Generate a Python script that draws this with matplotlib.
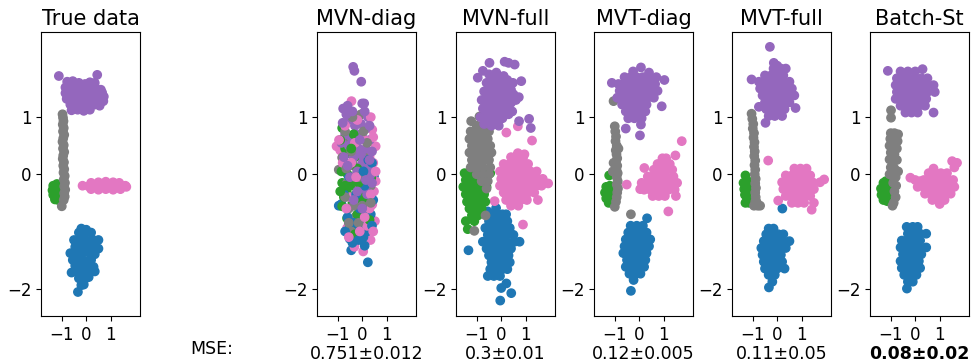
import matplotlib
matplotlib.use("Agg")
import matplotlib.pyplot as plt

# ---------------- data ----------------
titles = ["True data", "MVN-diag", "MVN-full", "MVT-diag", "MVT-full", "Batch-St"]
mse_labels = [None, "0.751\u00b10.012", "0.3\u00b10.01", "0.12\u00b10.005", "0.11\u00b10.05", "0.08\u00b10.02"]
colors = {"blue": "#1f77b4", "green": "#2ca02c", "pink": "#e377c2", "gray": "#7f7f7f", "purple": "#9467bd"}
xticks = [-1, 0, 1]
yticks = [-2, 0, 1]

# --- True data
true_purple = [(-1.12, 1.72), (0.45, 1.74),
    (-0.78, 1.62), (-0.55, 1.63), (-0.3, 1.6), (-0.05, 1.58), (0.15, 1.61), (0.35, 1.6),
    (-0.85, 1.52), (-0.6, 1.5), (-0.35, 1.53), (-0.1, 1.5), (0.15, 1.52), (0.4, 1.5), (0.6, 1.48),
    (-0.85, 1.42), (-0.6, 1.4), (-0.35, 1.43), (-0.1, 1.41), (0.15, 1.42), (0.4, 1.4), (0.65, 1.43), (0.72, 1.36),
    (-0.8, 1.32), (-0.55, 1.3), (-0.3, 1.33), (-0.05, 1.3), (0.2, 1.32), (0.45, 1.3), (0.7, 1.28),
    (-0.65, 1.22), (-0.4, 1.2), (-0.15, 1.23), (0.1, 1.2), (0.35, 1.22), (0.55, 1.2),
    (-0.6, 1.12), (-0.35, 1.13), (-0.1, 1.11), (0.15, 1.13)]
true_gray = [(-0.97, 1.05), (-0.95, 0.99), (-0.93, 0.93), (-0.96, 0.87), (-0.92, 0.81), (-0.95, 0.75),
    (-0.9, 0.69), (-0.94, 0.63), (-0.97, 0.57), (-0.92, 0.51), (-0.95, 0.45), (-0.9, 0.39),
    (-0.94, 0.33), (-0.96, 0.27), (-0.91, 0.21), (-0.94, 0.15), (-0.9, 0.09), (-0.93, 0.03),
    (-0.88, -0.03), (-0.92, -0.09), (-0.87, -0.15), (-0.9, -0.21), (-0.86, -0.27), (-0.9, -0.33),
    (-0.88, -0.39), (-0.92, -0.45), (-1.0, -0.56)]
true_green = [(-1.35, -0.2), (-1.2, -0.17), (-1.38, -0.28), (-1.25, -0.26), (-1.12, -0.25), (-1.35, -0.36),
    (-1.22, -0.35), (-1.1, -0.33), (-1.28, -0.44), (-1.15, -0.45), (-1.3, -0.32), (-1.18, -0.4)]
true_pink = [(0.2, -0.15), (0.5, -0.14), (0.8, -0.13), (1.1, -0.14), (1.35, -0.15),
    (-0.15, -0.2), (0.1, -0.21), (0.4, -0.2), (0.7, -0.19), (1.0, -0.2), (1.3, -0.21), (1.6, -0.2),
    (0.2, -0.26), (0.5, -0.27), (0.8, -0.26), (1.1, -0.27), (1.4, -0.26), (1.64, -0.22)]
true_blue = [(-0.2, -0.95), (0.0, -0.97), (-0.3, -1.02), (-0.05, -1.04), (0.2, -1.02),
    (-0.5, -1.15), (-0.25, -1.15), (0.0, -1.17), (0.25, -1.14), (0.5, -1.15),
    (-0.45, -1.27), (-0.2, -1.27), (0.05, -1.28), (0.3, -1.26), (0.5, -1.3),
    (-0.65, -1.38), (-0.4, -1.39), (-0.15, -1.38), (0.1, -1.37), (0.35, -1.4),
    (-0.55, -1.5), (-0.3, -1.5), (-0.05, -1.52), (0.2, -1.5),
    (-0.45, -1.6), (-0.2, -1.61), (0.05, -1.6), (0.3, -1.62),
    (-0.6, -1.72), (-0.35, -1.72), (-0.1, -1.73), (0.15, -1.72), (0.35, -1.7),
    (-0.3, -1.82), (-0.05, -1.83), (0.1, -1.8), (-0.2, -1.94), (-0.1, -1.93), (-0.34, -2.06)]

# --- MVN-diag
mvnd_purple = [(-0.37, 1.88), (-0.32, 1.81), (-0.04, 1.62), (0.0, 1.24), (0.08, 1.24), (-0.78, 1.15),
    (-0.6, 1.2), (0.23, 1.0), (-0.55, 0.95), (-0.3, 0.85), (-0.05, 0.88), (0.15, 0.8), (-0.7, 0.7),
    (-0.45, 0.65), (-0.2, 0.7), (0.05, 0.62), (0.3, 0.6), (-0.85, 0.55), (-0.55, 0.5), (-0.15, 0.45),
    (0.15, 0.45), (-0.35, 0.3), (0.0, 0.2), (-0.2, 0.05), (0.25, 0.1), (-0.5, -0.05), (0.1, -0.25),
    (0.2, -0.35), (-0.2, -0.3), (0.35, 0.0),
    (-0.65, 1.05), (-0.4, 1.1), (0.1, 1.1), (-0.8, 0.9), (0.3, 0.85), (-0.1, 0.6), (0.4, 0.4),
    (-0.75, 0.3), (-0.05, 0.35), (0.3, 0.25), (-0.6, 0.15), (0.15, -0.1), (-0.35, -0.45), (0.0, -0.6),
    (0.4, -0.15)]
mvnd_pink = [(-0.44, 1.28), (0.41, 0.78), (0.55, 0.49), (-1.05, 0.49), (-0.9, 0.42), (0.3, 0.3),
    (0.25, 0.15), (0.55, -0.12), (0.48, -0.3), (0.41, -0.53), (0.52, -0.82), (-0.62, -0.94),
    (0.34, -1.15), (-0.32, -1.27), (0.04, -1.35), (-0.3, -1.2), (0.2, -0.05), (-0.1, -0.2),
    (0.3, -0.6), (-0.5, -0.4), (0.1, 0.6), (-0.2, 0.95), (0.35, 1.0), (0.2, -0.9), (-0.45, 0.2),
    (-0.7, 0.85), (-0.3, 0.55), (0.45, 0.65), (-0.8, 0.2), (0.45, 0.2), (-0.25, -0.05), (0.35, -0.35),
    (-0.65, -0.6), (0.1, -0.75), (-0.1, -1.0), (0.45, -1.0), (-0.55, -1.1), (0.55, 0.05), (-0.95, 0.6)]
mvnd_blue = [(0.04, 0.33), (0.48, -0.04), (-0.96, -0.55), (-0.85, -0.52), (0.0, -0.49), (0.15, -0.6),
    (-0.07, -0.74), (0.0, -0.91), (0.1, -0.85), (-0.51, -1.13), (-0.45, -1.33), (0.23, -1.54),
    (-0.55, -0.04), (-0.2, -0.95), (0.2, -1.0), (-0.3, -1.05), (0.35, -0.7), (0.3, -0.1),
    (-0.1, -0.6), (0.45, -0.45), (-0.35, -0.85), (0.05, -1.1), (-0.15, 0.1), (0.25, 0.25),
    (-0.75, -0.35), (-0.6, -0.75), (0.3, -0.35), (-0.25, -0.35), (0.1, -0.2), (-0.4, -1.2),
    (0.1, -1.25), (-0.15, -1.15), (0.4, -0.9), (-0.7, -1.0), (0.05, 0.05), (0.4, 0.2)]
mvnd_green = [(-0.82, 0.81), (-0.55, 0.37), (-0.75, 0.17), (-0.82, -0.15), (-0.62, -0.33), (-0.82, -0.56),
    (-0.62, -0.77), (0.0, -1.15), (0.37, -0.06), (-0.55, 0.6), (-0.6, 0.0), (-0.4, -0.5), (-0.3, 0.3),
    (-0.45, -0.2), (0.25, -0.5), (-0.2, -0.7), (0.2, 0.05), (-0.7, 0.45), (-0.5, -0.9), (0.1, -0.3),
    (-0.9, 0.6), (-0.35, 0.7), (-0.85, 0.05), (-0.2, 0.1), (-0.75, -0.4), (0.0, -0.45), (-0.3, -1.05),
    (-0.7, -0.2), (-0.15, -0.15), (-0.45, 0.45), (0.3, -0.8), (-0.9, -0.3)]
mvnd_gray = [(-0.14, 1.02), (-0.05, 1.05), (-0.37, 0.65), (-0.82, 0.29), (-0.96, 0.08), (-0.62, -0.15),
    (-0.21, 0.02), (-0.27, -0.74), (0.27, -0.74), (-0.27, -0.97), (-0.4, -0.15), (-0.6, 0.55),
    (-0.2, 0.45), (0.1, 0.3), (-0.1, -0.3), (-0.55, -0.6), (0.05, -0.15), (-0.35, 0.15), (-0.8, 0.3),
    (-0.35, -0.55), (0.2, -0.9), (-0.45, -1.0), (0.35, -0.2),
    (-0.4, 1.0), (-0.7, 0.75), (0.05, 0.75), (-0.45, 0.4), (0.2, 0.55), (-0.65, 0.1), (-0.15, -0.05),
    (-0.7, -0.4), (0.0, -0.55), (-0.15, -0.85), (0.35, -0.5), (-0.55, -0.85)]

# --- MVN-full
mvnf_purple = [(-0.48, 1.95), (0.14, 1.97), (0.3, 1.95), (0.55, 1.92), (-0.96, 1.69), (-0.75, 1.81),
    (0.82, 1.63), (0.48, 1.6), (1.14, 0.97), (1.21, 0.81), (0.73, 0.93),
    (-0.5, 1.75), (-0.2, 1.78), (0.1, 1.72), (-0.6, 1.6), (-0.3, 1.58), (0.0, 1.6), (0.3, 1.55),
    (-0.7, 1.45), (-0.4, 1.45), (-0.1, 1.45), (0.2, 1.42), (0.5, 1.4), (0.72, 1.35),
    (-0.8, 1.3), (-0.5, 1.3), (-0.2, 1.3), (0.1, 1.3), (0.4, 1.25),
    (-0.75, 1.15), (-0.45, 1.15), (-0.15, 1.15), (0.15, 1.12), (0.45, 1.1),
    (-0.85, 1.0), (-0.55, 1.0), (-0.25, 1.0), (0.05, 0.98),
    (-0.7, 0.88), (-0.4, 0.85), (-0.1, 0.85),
    (-0.35, 1.7), (-0.05, 1.68), (0.25, 1.65), (-0.45, 1.52), (-0.15, 1.52), (0.15, 1.5), (0.4, 1.48),
    (-0.55, 1.38), (-0.25, 1.38), (0.05, 1.37), (0.35, 1.33), (0.6, 1.3), (-0.65, 1.22), (-0.35, 1.22),
    (-0.05, 1.22), (0.25, 1.2), (-0.6, 1.08), (-0.3, 1.07), (0.0, 1.06), (0.3, 1.05), (-0.55, 0.92),
    (-0.25, 0.92)]
mvnf_gray = [(-1.23, 0.93), (-0.89, 1.01), (-1.0, 0.85), (-0.75, 0.82),
    (-1.25, 0.75), (-1.0, 0.75), (-0.75, 0.75), (-0.5, 0.75),
    (-1.3, 0.62), (-1.05, 0.62), (-0.8, 0.62), (-0.55, 0.62),
    (-1.2, 0.5), (-0.95, 0.5), (-0.7, 0.5), (-0.45, 0.5),
    (-1.3, 0.38), (-1.05, 0.38), (-0.8, 0.38), (-0.55, 0.38), (-0.4, 0.38),
    (-1.2, 0.25), (-0.95, 0.25), (-0.7, 0.25), (-0.5, 0.25),
    (-1.25, 0.12), (-1.0, 0.12), (-0.75, 0.12), (-0.45, 0.12),
    (-1.0, 0.0), (-0.75, 0.0), (-0.5, 0.0), (-0.8, -0.12), (-0.55, -0.12), (-0.6, -0.25),
    (-1.1, -0.99), (-0.64, -0.72)]
mvnf_green = [(-1.5, 0.02), (-1.3, 0.02), (-0.95, 0.02), (-0.7, 0.02), (-0.45, 0.02),
    (-1.45, -0.1), (-1.2, -0.1), (-0.95, -0.1), (-0.7, -0.1),
    (-1.55, -0.22), (-1.3, -0.22), (-1.05, -0.22), (-0.8, -0.22), (-0.6, -0.22),
    (-1.45, -0.35), (-1.2, -0.35), (-0.95, -0.35), (-0.7, -0.35),
    (-1.4, -0.48), (-1.15, -0.48), (-0.9, -0.48), (-0.65, -0.48),
    (-1.3, -0.6), (-1.05, -0.6), (-0.8, -0.6), (-1.2, -0.72), (-0.95, -0.72),
    (-1.45, -0.82), (-1.1, -0.82), (-1.37, -0.96)]
mvnf_pink = [(0.21, 0.73), (0.68, 0.84), (1.26, 0.59), (0.68, 0.37), (0.95, 0.35), (1.92, -0.16),
    (0.89, -0.88), (-0.27, -0.47),
    (0.4, 0.3), (0.65, 0.3), (0.9, 0.3),
    (0.1, 0.18), (0.35, 0.18), (0.6, 0.18), (0.85, 0.18), (1.1, 0.18),
    (-0.05, 0.05), (0.2, 0.05), (0.45, 0.05), (0.7, 0.05), (0.95, 0.05), (1.2, 0.05), (1.45, 0.05),
    (0.0, -0.08), (0.25, -0.08), (0.5, -0.08), (0.75, -0.08), (1.0, -0.08), (1.25, -0.08), (1.5, -0.08), (1.7, -0.08),
    (-0.05, -0.2), (0.2, -0.2), (0.45, -0.2), (0.7, -0.2), (0.95, -0.2), (1.2, -0.2), (1.45, -0.2), (1.65, -0.2),
    (0.1, -0.32), (0.35, -0.32), (0.6, -0.32), (0.85, -0.32), (1.1, -0.32), (1.35, -0.32),
    (0.2, -0.45), (0.5, -0.45), (0.8, -0.45), (1.05, -0.45), (1.5, -0.45), (0.4, -0.55), (0.7, -0.55)]
mvnf_blue = [(-0.55, -0.65), (-0.21, -0.59), (-1.34, -1.33), (0.75, -1.18), (0.21, -1.91), (0.0, -1.99),
    (0.41, -2.08), (-0.04, -2.21),
    (-0.45, -0.7), (-0.2, -0.7), (0.05, -0.7), (0.2, -0.7),
    (-0.5, -0.82), (-0.25, -0.82), (0.0, -0.82), (0.25, -0.82),
    (-0.65, -0.94), (-0.4, -0.94), (-0.15, -0.94), (0.1, -0.94), (0.35, -0.94),
    (-0.55, -1.06), (-0.3, -1.06), (-0.05, -1.06), (0.2, -1.06), (0.5, -1.06),
    (-0.75, -1.18), (-0.5, -1.18), (-0.25, -1.18), (0.0, -1.18), (0.25, -1.18), (0.55, -1.18),
    (-0.6, -1.3), (-0.35, -1.3), (-0.1, -1.3), (0.15, -1.3), (0.4, -1.3),
    (-0.5, -1.42), (-0.25, -1.42), (0.0, -1.42), (0.3, -1.42),
    (-0.4, -1.54), (-0.15, -1.54), (0.1, -1.54), (0.35, -1.54),
    (-0.45, -1.66), (-0.2, -1.66), (0.05, -1.66), (0.25, -1.66),
    (-0.55, -1.78), (-0.3, -1.78), (-0.05, -1.78)]

# --- MVT-diag
mvtd_purple = [(0.07, 1.87), (-1.12, 1.6), (1.03, 1.65), (0.92, 1.19), (0.03, 0.68), (-0.55, 0.8),
    (0.07, 0.87), (-0.25, 1.8), (0.4, 1.78),
    (-0.6, 1.7), (-0.35, 1.7), (-0.1, 1.7), (0.15, 1.7), (0.4, 1.7), (0.7, 1.7),
    (-0.85, 1.58), (-0.6, 1.58), (-0.35, 1.58), (-0.1, 1.58), (0.15, 1.58), (0.4, 1.58), (0.65, 1.58),
    (-0.8, 1.46), (-0.55, 1.46), (-0.3, 1.46), (-0.05, 1.46), (0.2, 1.46), (0.45, 1.46), (0.75, 1.46),
    (-0.9, 1.34), (-0.65, 1.34), (-0.4, 1.34), (-0.15, 1.34), (0.1, 1.34), (0.35, 1.34), (0.6, 1.34),
    (-0.7, 1.22), (-0.45, 1.22), (-0.2, 1.22), (0.05, 1.22), (0.3, 1.22),
    (-0.55, 1.1), (-0.3, 1.1), (-0.05, 1.1), (0.25, 1.1), (-0.45, 0.98), (-0.2, 0.98), (0.1, 0.98)]
mvtd_gray = [(-1.05, 1.28), (-1.0, 0.84), (-0.98, 0.75), (-0.95, 0.66), (-0.97, 0.58), (-0.92, 0.5),
    (-0.96, 0.42), (-0.93, 0.35), (-0.9, 0.28), (-0.95, 0.22), (-0.9, 0.15), (-0.93, 0.08),
    (-0.88, 0.02), (-0.92, -0.05), (-0.88, -0.12), (-0.92, -0.18), (-0.87, -0.25), (-0.9, -0.32),
    (-0.92, -0.4), (-0.95, -0.48), (-1.0, -0.57), (-1.05, 0.2), (-1.08, 0.05), (-0.85, 0.45), (-0.34, -0.7)]
mvtd_green = [(-1.23, -0.02), (-1.35, -0.22), (-1.2, -0.2), (-1.4, -0.32), (-1.25, -0.3), (-1.1, -0.28),
    (-1.35, -0.42), (-1.2, -0.4), (-1.08, -0.4), (-1.25, -0.5), (-1.12, -0.5)]
mvtd_pink = [(1.74, 0.58), (1.48, 0.33), (0.21, 0.11), (-0.51, -0.18), (1.19, -0.65), (0.04, -0.26),
    (0.95, 0.28), (1.1, 0.28), (0.75, 0.18), (1.0, 0.18), (1.25, 0.18),
    (0.6, 0.08), (0.85, 0.08), (1.1, 0.08), (1.35, 0.08),
    (0.35, -0.04), (0.6, -0.04), (0.85, -0.04), (1.1, -0.04), (1.4, -0.04),
    (0.1, -0.15), (0.35, -0.15), (0.6, -0.15), (0.85, -0.15), (1.1, -0.15), (1.35, -0.15), (1.55, -0.15),
    (0.2, -0.27), (0.45, -0.27), (0.7, -0.27), (0.95, -0.27), (1.2, -0.27), (1.45, -0.27),
    (0.55, -0.38), (0.8, -0.38), (1.05, -0.38), (1.5, -0.38)]
mvtd_blue = [(0.32, -0.77), (-0.35, -0.9), (-0.1, -0.9), (0.15, -0.9),
    (-0.45, -1.02), (-0.2, -1.02), (0.05, -1.02), (0.3, -1.02),
    (-0.55, -1.14), (-0.3, -1.14), (-0.05, -1.14), (0.2, -1.14), (0.45, -1.14),
    (-0.6, -1.26), (-0.35, -1.26), (-0.1, -1.26), (0.15, -1.26), (0.4, -1.26),
    (-0.65, -1.38), (-0.4, -1.38), (-0.15, -1.38), (0.1, -1.38), (0.3, -1.38),
    (-0.5, -1.5), (-0.25, -1.5), (0.0, -1.5), (0.25, -1.5),
    (-0.55, -1.62), (-0.3, -1.62), (-0.05, -1.62), (0.2, -1.62),
    (-0.4, -1.74), (-0.15, -1.74), (0.05, -1.74), (-0.23, -1.85), (-0.34, -2.04)]

# --- MVT-full
mvtf_purple = [(-0.3, 2.23), (-0.14, 1.95), (0.0, 1.9), (-1.05, 1.66), (0.75, 1.16), (-0.75, 1.18), (-0.48, 0.9),
    (-0.15, 1.85), (0.15, 1.85), (0.35, 1.85),
    (-0.5, 1.73), (-0.25, 1.73), (0.0, 1.73), (0.25, 1.73),
    (-0.75, 1.62), (-0.5, 1.62), (-0.25, 1.62), (0.0, 1.62), (0.25, 1.62), (0.5, 1.62),
    (-0.7, 1.5), (-0.45, 1.5), (-0.2, 1.5), (0.05, 1.5), (0.3, 1.5), (0.6, 1.5),
    (-0.6, 1.38), (-0.35, 1.38), (-0.1, 1.38), (0.15, 1.38), (0.4, 1.38), (0.7, 1.38),
    (-0.5, 1.26), (-0.25, 1.26), (0.0, 1.26), (0.25, 1.26), (0.5, 1.26),
    (-0.45, 1.14), (-0.2, 1.14), (0.05, 1.14), (0.3, 1.14), (-0.35, 1.02), (-0.1, 1.02), (0.2, 1.02)]
mvtf_gray = [(-1.05, 1.06), (-1.02, 0.97), (-0.98, 0.88), (-1.0, 0.8), (-0.95, 0.72), (-0.97, 0.64),
    (-0.93, 0.56), (-0.95, 0.48), (-0.92, 0.4), (-0.94, 0.32), (-0.9, 0.24), (-0.93, 0.16),
    (-0.9, 0.08), (-0.92, 0.0), (-0.88, -0.08), (-0.9, -0.16), (-0.87, -0.24), (-0.9, -0.32),
    (-0.88, -0.4), (-0.9, -0.48), (-0.95, -0.55), (-0.8, -0.55), (-0.7, -0.55), (-0.85, -0.48)]
mvtf_green = [(-1.3, -0.02), (-1.25, -0.1), (-1.38, -0.15), (-1.22, -0.2), (-1.35, -0.26), (-1.2, -0.3),
    (-1.32, -0.36), (-1.22, -0.42), (-1.3, -0.5), (-1.15, -0.5)]
mvtf_pink = [(-0.37, 0.24), (0.04, -0.46), (1.41, -0.62), (1.92, -0.09),
    (0.7, 0.1), (0.95, 0.1), (1.2, 0.1),
    (0.35, -0.02), (0.6, -0.02), (0.85, -0.02), (1.1, -0.02), (1.35, -0.02),
    (0.2, -0.14), (0.45, -0.14), (0.7, -0.14), (0.95, -0.14), (1.2, -0.14), (1.45, -0.14), (1.75, -0.14),
    (0.25, -0.26), (0.5, -0.26), (0.75, -0.26), (1.0, -0.26), (1.25, -0.26), (1.5, -0.26),
    (0.35, -0.38), (0.6, -0.38), (0.85, -0.38), (1.1, -0.38), (1.35, -0.38),
    (0.6, -0.5), (0.85, -0.5), (1.1, -0.5), (1.5, -0.5)]
mvtf_blue = [(0.21, -0.6), (-0.35, -0.95), (-0.15, -0.95),
    (-0.45, -1.05), (-0.2, -1.05), (0.05, -1.05), (0.25, -1.05),
    (-0.55, -1.17), (-0.3, -1.17), (-0.05, -1.17), (0.2, -1.17), (0.5, -1.17),
    (-0.65, -1.29), (-0.4, -1.29), (-0.15, -1.29), (0.1, -1.29), (0.35, -1.29),
    (-0.6, -1.41), (-0.35, -1.41), (-0.1, -1.41), (0.15, -1.41),
    (-0.55, -1.53), (-0.3, -1.53), (-0.05, -1.53), (0.2, -1.53),
    (-0.5, -1.65), (-0.25, -1.65), (0.0, -1.65), (0.3, -1.65),
    (-0.35, -1.76), (-0.1, -1.76), (-0.2, -1.88), (-0.34, -1.98)]

# --- Batch-St
bst_purple = [(-1.12, 1.81),
    (-0.6, 1.8), (-0.3, 1.8), (0.0, 1.8), (0.3, 1.84),
    (-0.75, 1.68), (-0.5, 1.68), (-0.25, 1.68), (0.0, 1.68), (0.25, 1.68), (0.5, 1.68),
    (-0.8, 1.56), (-0.55, 1.56), (-0.3, 1.56), (-0.05, 1.56), (0.2, 1.56), (0.45, 1.56), (0.75, 1.56),
    (-0.75, 1.44), (-0.5, 1.44), (-0.25, 1.44), (0.0, 1.44), (0.25, 1.44), (0.5, 1.44), (0.8, 1.44),
    (-0.8, 1.32), (-0.55, 1.32), (-0.3, 1.32), (-0.05, 1.32), (0.2, 1.32), (0.45, 1.32),
    (-0.6, 1.2), (-0.35, 1.2), (-0.1, 1.2), (0.15, 1.2), (0.4, 1.2),
    (-0.4, 1.08), (-0.15, 1.08), (0.1, 1.08), (0.75, 1.08)]
bst_gray = [(-0.99, 1.12), (-0.99, 0.99),
    (-1.0, 0.72), (-0.85, 0.72), (-0.7, 0.7), (-1.02, 0.62), (-0.88, 0.6), (-0.72, 0.58),
    (-1.05, 0.5), (-0.9, 0.48), (-0.75, 0.45), (-1.0, 0.38), (-0.85, 0.35), (-1.05, 0.26),
    (-0.9, 0.22), (-0.75, 0.25), (-1.0, 0.12), (-0.85, 0.1), (-0.7, 0.05), (-0.95, -0.02),
    (-0.8, -0.05), (-0.9, -0.15), (-0.78, -0.2), (-0.85, -0.3), (-0.8, -0.4), (-0.88, -0.5),
    (-0.93, -0.55), (-1.05, 0.0)]
bst_green = [(-1.3, -0.15), (-1.2, -0.12), (-1.4, -0.25), (-1.25, -0.25), (-1.12, -0.22), (-1.38, -0.36),
    (-1.22, -0.36), (-1.1, -0.34), (-1.3, -0.45), (-1.15, -0.47)]
bst_pink = [(1.51, 0.23), (1.71, 0.2), (1.6, 0.12), (-0.2, -0.06), (0.0, -0.1), (0.2, -0.12), (0.75, 0.1),
    (0.55, 0.02), (0.8, 0.02), (1.05, 0.02), (1.3, 0.02),
    (0.35, -0.1), (0.6, -0.1), (0.85, -0.1), (1.1, -0.1), (1.35, -0.1), (1.55, -0.1),
    (0.1, -0.22), (0.35, -0.22), (0.6, -0.22), (0.85, -0.22), (1.1, -0.22), (1.35, -0.22), (1.6, -0.22),
    (0.4, -0.34), (0.65, -0.34), (0.9, -0.34), (1.15, -0.34), (1.45, -0.34),
    (0.7, -0.45), (0.95, -0.45), (1.2, -0.45), (1.0, -0.52)]
bst_blue = [(-0.35, -0.92), (-0.1, -0.92), (0.1, -0.92),
    (-0.3, -1.04), (-0.05, -1.04), (0.2, -1.04), (0.45, -1.04),
    (-0.55, -1.16), (-0.3, -1.16), (-0.05, -1.16), (0.2, -1.16),
    (-0.6, -1.28), (-0.35, -1.28), (-0.1, -1.28), (0.15, -1.28), (0.45, -1.28),
    (-0.5, -1.4), (-0.25, -1.4), (0.0, -1.4), (0.25, -1.4),
    (-0.6, -1.52), (-0.35, -1.52), (-0.1, -1.52), (0.15, -1.52),
    (-0.55, -1.64), (-0.3, -1.64), (-0.05, -1.64), (0.2, -1.64),
    (-0.45, -1.76), (-0.2, -1.76), (0.05, -1.76), (-0.3, -1.88), (-0.1, -1.88), (-0.34, -2.0)]

panels = [
    {"blue": true_blue, "green": true_green, "pink": true_pink, "gray": true_gray, "purple": true_purple},
    {"blue": mvnd_blue, "green": mvnd_green, "pink": mvnd_pink, "gray": mvnd_gray, "purple": mvnd_purple},
    {"blue": mvnf_blue, "green": mvnf_green, "pink": mvnf_pink, "gray": mvnf_gray, "purple": mvnf_purple},
    {"blue": mvtd_blue, "green": mvtd_green, "pink": mvtd_pink, "gray": mvtd_gray, "purple": mvtd_purple},
    {"blue": mvtf_blue, "green": mvtf_green, "pink": mvtf_pink, "gray": mvtf_gray, "purple": mvtf_purple},
    {"blue": bst_blue, "green": bst_green, "pink": bst_pink, "gray": bst_gray, "purple": bst_purple},
]

# ---------------- figure ----------------
W, H = 972, 364
fig = plt.figure(figsize=(W / 100, H / 100), dpi=100)
lefts_px = [41, 317, 456, 594, 732, 870]
ax_w, top_px, bot_px = 99, 32, 316

for i, (pts, title) in enumerate(zip(panels, titles)):
    ax = fig.add_axes([lefts_px[i] / W, 1 - bot_px / H, ax_w / W, (bot_px - top_px) / H])
    # interleave clusters so overlapping points mix
    xs, ys, cs = [], [], []
    names = list(pts.keys())
    maxlen = max(len(v) for v in pts.values())
    for k in range(maxlen):
        for name in names:
            if k < len(pts[name]):
                xs.append(pts[name][k][0])
                ys.append(pts[name][k][1])
                cs.append(colors[name])
    ax.scatter(xs, ys, c=cs, s=36)
    ax.set_xlim(-1.85, 2.2)
    ax.set_ylim(-2.48, 2.49)
    ax.set_xticks(xticks)
    ax.set_yticks(yticks)
    ax.tick_params(labelsize=12, length=3.5)
    ax.set_title(title, fontsize=15, pad=5)
    if mse_labels[i] is not None:
        ax.set_xlabel(mse_labels[i], fontsize=12.5, labelpad=1,
                      fontweight="bold" if i == 5 else "normal")

fig.text(212 / W, 1 - 349 / H, "MSE:", fontsize=12.5, ha="center", va="center")

fig.savefig("out.png", dpi=100)
